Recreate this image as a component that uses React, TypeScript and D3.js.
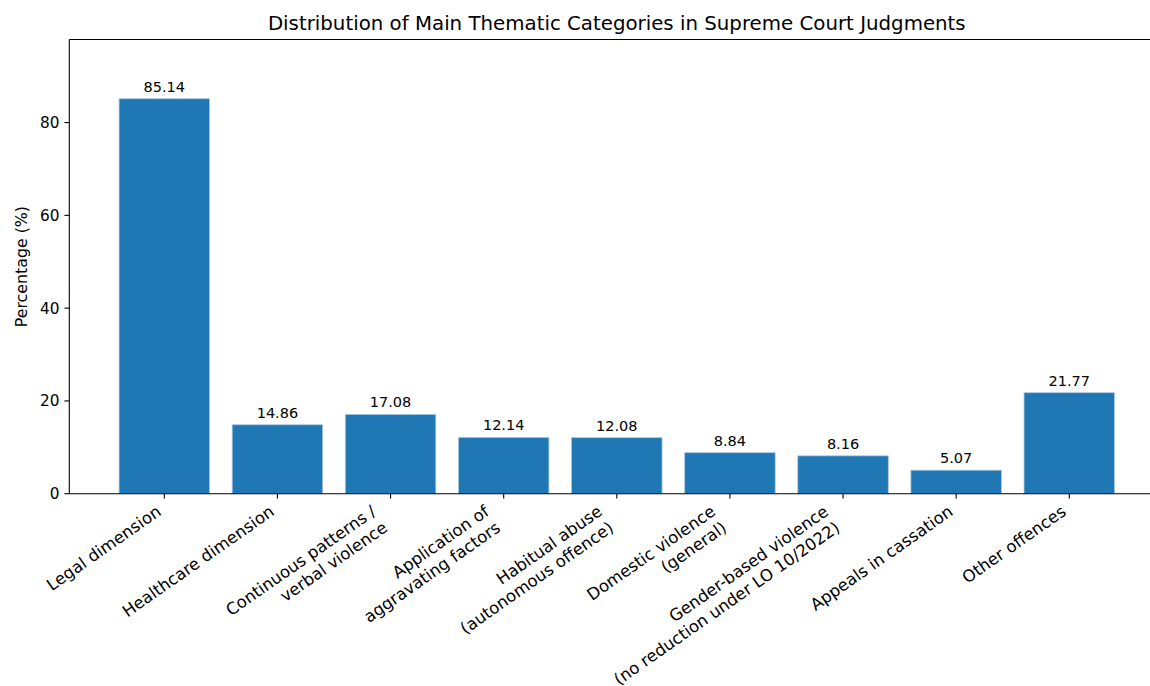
import React from 'react';
import * as d3 from 'd3';

// data
const categories = [
  'Legal dimension',
  'Healthcare dimension',
  'Continuous patterns /\nverbal violence',
  'Application of\naggravating factors',
  'Habitual abuse\n(autonomous offence)',
  'Domestic violence\n(general)',
  'Gender-based violence\n(no reduction under LO 10/2022)',
  'Appeals in cassation',
  'Other offences',
];
const percentages = [85.14, 14.86, 17.08, 12.14, 12.08, 8.84, 8.16, 5.07, 21.77];
const yTicks = [0, 20, 40, 60, 80];

const W = 1150;
const H = 686;
const FONT = 'DejaVu Sans, sans-serif';
const BAR = '#1f77b4';
const ROT = 35;

const App = () => {
  const n = categories.length;
  // matplotlib-like limits: bars of width 0.8 with 5% margins
  const x = d3.scaleLinear().domain([-0.84, n - 1 + 0.84]).range([69.3, 1164.3]);
  const yMax = d3.max(percentages)! * 1.15;
  const y = d3.scaleLinear().domain([0, yMax]).range([493.7, 39.5]);
  const barW = x(0.8) - x(0);

  const xTickFs = 16.5;
  const yTickFs = 15.3;
  const labelFs = 14.5;
  const sin = Math.sin((ROT * Math.PI) / 180);
  const [x0, x1] = x.range();
  const [yb, yt] = y.range();

  return (
    <div style={{ position: 'fixed', left: 0, top: 0, width: W, height: H, background: '#fff' }}>
      <svg width={W} height={H} style={{ display: 'block', overflow: 'hidden' }} fontFamily={FONT}>
        <rect width={W} height={H} fill="#fff" />
        <text x={(x0 + x1) / 2} y={30} textAnchor="middle" fontSize={19.8} fill="#000">
          Distribution of Main Thematic Categories in Supreme Court Judgments
        </text>

        {percentages.map((v, i) => (
          <g key={i}>
            <rect
              x={x(i) - barW / 2}
              y={y(v)}
              width={barW}
              height={yb - y(v)}
              fill={BAR}
              stroke="#a9c7e0"
              strokeWidth={0.8}
            />
            <text x={x(i)} y={y(v) - 7} textAnchor="middle" fontSize={labelFs} fill="#000">
              {v.toFixed(2)}
            </text>
          </g>
        ))}

        {/* spines */}
        <line x1={x0} x2={x0} y1={yt} y2={yb} stroke="#000" strokeWidth={1.1} />
        <line x1={x0} x2={x1} y1={yb} y2={yb} stroke="#000" strokeWidth={1.1} />
        <line x1={x0} x2={x1} y1={yt} y2={yt} stroke="#000" strokeWidth={1.1} />
        <line x1={x1} x2={x1} y1={yt} y2={yb} stroke="#000" strokeWidth={1.1} />

        {/* y axis */}
        {yTicks.map((t) => (
          <g key={t}>
            <line x1={x0 - 4.9} x2={x0} y1={y(t)} y2={y(t)} stroke="#000" strokeWidth={1.1} />
            <text x={x0 - 9.8} y={y(t)} dy="0.36em" textAnchor="end" fontSize={yTickFs} fill="#000">
              {t}
            </text>
          </g>
        ))}
        <text
          transform={`translate(26.5,${(yt + yb) / 2}) rotate(-90)`}
          textAnchor="middle"
          fontSize={15.8}
          fill="#000"
        >
          Percentage (%)
        </text>

        {/* x axis, rotated labels anchored like matplotlib ha=right */}
        {categories.map((c, i) => {
          const lines = c.split('\n');
          const h = (lines.length - 1) * 1.2 * xTickFs + xTickFs;
          const tx = x(i) - h * sin;
          const ty = yb + 4.9 + 4.9;
          return (
            <g key={c}>
              <line x1={x(i)} x2={x(i)} y1={yb} y2={yb + 4.9} stroke="#000" strokeWidth={1.1} />
              <g transform={`translate(${tx},${ty}) rotate(${-ROT})`}>
                {lines.map((l, k) => (
                  <text
                    key={k}
                    x={0}
                    y={0.78 * xTickFs + k * 1.2 * xTickFs}
                    textAnchor="end"
                    fontSize={xTickFs}
                    fill="#000"
                  >
                    {l}
                  </text>
                ))}
              </g>
            </g>
          );
        })}
      </svg>
    </div>
  );
};

export default App;
